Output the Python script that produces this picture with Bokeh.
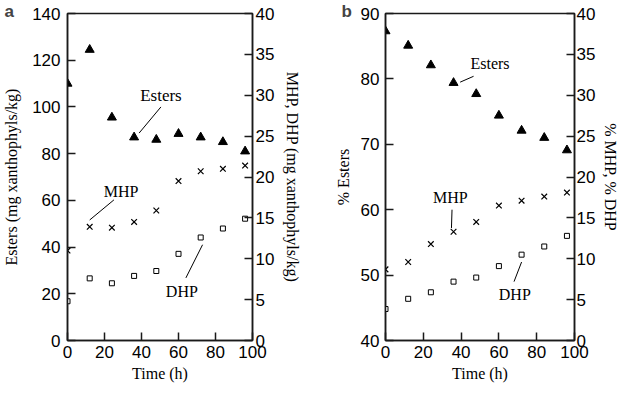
from bokeh.plotting import figure
from bokeh.models import Range1d, LinearAxis, FixedTicker, Label, Title
from bokeh.layouts import row
from bokeh.embed import file_html
from bokeh.resources import INLINE

# ---- data ----
time_h = [0, 12, 24, 36, 48, 60, 72, 84, 96]
esters_a = [110, 124.5, 95.5, 87, 86, 88.5, 87, 85, 81]
mhp_a = [11.0, 13.9, 13.8, 14.5, 15.9, 19.5, 20.7, 21.0, 21.4]
dhp_a = [4.8, 7.6, 7.0, 7.9, 8.5, 10.6, 12.6, 13.7, 14.9]
esters_b = [87.3, 85.1, 82.1, 79.4, 77.7, 74.4, 72.1, 71.0, 69.1]
mhp_b = [8.7, 9.6, 11.8, 13.3, 14.5, 16.5, 17.1, 17.6, 18.1]
dhp_b = [3.85, 5.1, 5.9, 7.2, 7.7, 9.1, 10.5, 11.5, 12.8]

x_ticks = [0, 20, 40, 60, 80, 100]
left_ticks_a = [0, 20, 40, 60, 80, 100, 120, 140]
left_ticks_b = [40, 50, 60, 70, 80, 90]
right_ticks = [0, 5, 10, 15, 20, 25, 30, 35, 40]

SANS = "Liberation Sans"
SERIF = "Liberation Serif"
AX = "#1a1a1a"


def style_axis(ax, ticks, label, standoff, label_standoff):
    ax.ticker = FixedTicker(ticks=ticks)
    ax.axis_label = label
    ax.axis_label_text_font = SERIF
    ax.axis_label_text_font_style = "normal"
    ax.axis_label_text_font_size = "16px"
    ax.axis_label_text_color = "black"
    ax.axis_label_standoff = label_standoff
    ax.major_label_text_font = SANS
    ax.major_label_text_font_size = "17px"
    ax.major_label_text_color = "black"
    ax.major_label_standoff = standoff
    ax.major_tick_in = 8
    ax.major_tick_out = 0
    ax.minor_tick_line_color = None
    ax.axis_line_color = AX
    ax.axis_line_width = 1.5
    ax.major_tick_line_color = AX
    ax.major_tick_line_width = 1.5


def make_panel(width, yl, left_ticks, left_label, right_label, esters, mhp, dhp,
               border_left, border_right, tag, tag_offset, left_so, right_so):
    p = figure(width=width, height=385, output_backend="svg", toolbar_location=None,
               x_range=Range1d(0, 100), y_range=Range1d(*yl),
               min_border_left=border_left, min_border_right=border_right,
               min_border_top=13, min_border_bottom=45)
    p.extra_y_ranges = {"right": Range1d(0, 40)}
    p.xgrid.visible = False
    p.ygrid.visible = False
    p.outline_line_color = AX
    p.outline_line_width = 1.5
    p.background_fill_color = "white"
    p.border_fill_color = "white"

    p.title = Title(text=tag, text_font=SANS, text_font_style="bold",
                    text_font_size="17px", align="left", offset=tag_offset,
                    standoff=-15, vertical_align="bottom")

    style_axis(p.xaxis[0], x_ticks, "Time (h)", 5, 4)
    style_axis(p.yaxis[0], left_ticks, left_label, *left_so)
    ra = LinearAxis(y_range_name="right")
    style_axis(ra, right_ticks, right_label, *right_so)
    p.add_layout(ra, "right")

    p.scatter(time_h, esters, marker="triangle", size=9, color="black")
    p.scatter(time_h, mhp, marker="x", size=8, line_color="black", line_width=1.2,
              y_range_name="right")
    p.scatter(time_h, dhp, marker="square", size=5, fill_color="white",
              line_color="black", line_width=1, y_range_name="right")
    return p


pa = make_panel(305, (0, 140), left_ticks_a, "Esters (mg xanthophyls/kg)",
                "MHP, DHP (mg xanthophyls/kg)", esters_a, mhp_a, dhp_a, 66, 53,
                "a", -63, (7, 9), (3, 7))
pb = make_panel(317, (40, 90), left_ticks_b, "% Esters", "% MHP, % DHP",
                esters_b, mhp_b, dhp_b, 80, 48, "b", -44, (6, 6), (2, 4))


def note(p, x, y, text, size="16px"):
    p.add_layout(Label(x=x, y=y, text=text, text_font=SERIF, text_font_size=size,
                       text_align="center", text_baseline="middle", text_color="black"))


def lead(p, x0, y0, x1, y1):
    p.segment(x0=[x0], y0=[y0], x1=[x1], y1=[y1], line_color="black", line_width=1)


# panel a annotations (left-axis units)
note(pa, 50.5, 105, "Esters", "17px")
lead(pa, 50.5, 100, 38.7, 88.8)
note(pa, 29, 64, "MHP")
lead(pa, 25.1, 60.2, 12, 51.6)
note(pa, 61.8, 20.9, "DHP")
lead(pa, 73, 41, 64, 26.8)

# panel b annotations (left-axis units)
note(pb, 55.3, 82.4, "Esters")
lead(pb, 46.6, 80.4, 39.5, 79.5)
note(pb, 34.3, 61.9, "MHP")
lead(pb, 35.2, 60.0, 34.9, 57.2)
note(pb, 68.4, 47.1, "DHP")
lead(pb, 72, 52, 68, 49)

layout = row(pa, pb)
open("out.html", "w").write(file_html(layout, INLINE))
